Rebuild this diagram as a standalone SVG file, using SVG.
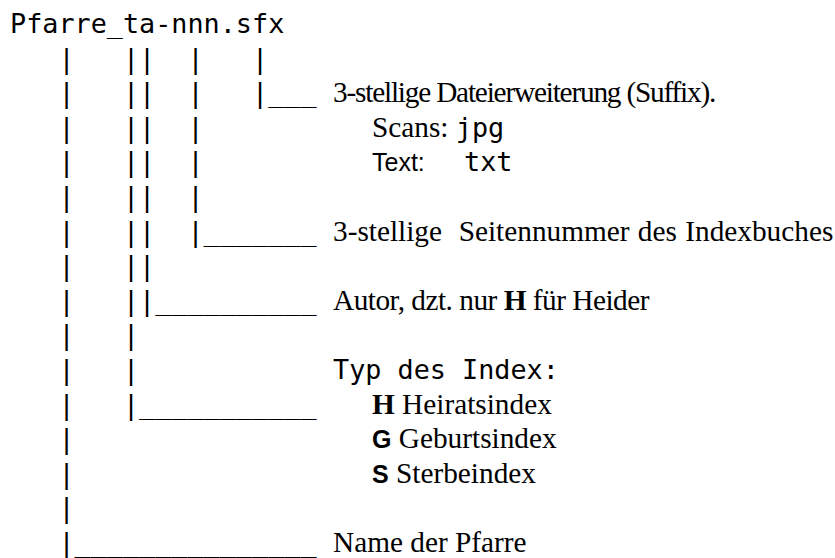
<svg xmlns="http://www.w3.org/2000/svg" width="835" height="558" viewBox="0 0 835 558">
  <style>
    .mono { font-family: "DejaVu Sans Mono", "Liberation Mono", monospace; font-size: 26.8px; fill: #000; white-space: pre; }
    .serif { font-family: "Liberation Serif", "Times New Roman", serif; font-size: 29.3px; fill: #000; white-space: pre; }
    .sans { font-family: "Liberation Sans", Arial, sans-serif; font-size: 25px; fill: #000; white-space: pre; }
    .b { font-weight: bold; }
  </style>
  <rect width="835" height="558" fill="#fff"/>

  <!-- file name pattern -->
  <g id="filename">
    <text class="mono" x="10" y="33">Pfarre_ta-nnn.sfx</text>
  </g>

  <!-- tree of pipes and underscores linking each part of the name to its label -->
  <g id="connectors" class="mono">
    <text class="mono" x="10" y="67.6" xml:space="preserve">   |   ||  |   |</text>
    <text class="mono" x="10" y="102.2" xml:space="preserve">   |   ||  |   |___</text>
    <text class="mono" x="10" y="136.8" xml:space="preserve">   |   ||  |</text>
    <text class="mono" x="10" y="171.4" xml:space="preserve">   |   ||  |</text>
    <text class="mono" x="10" y="206" xml:space="preserve">   |   ||  |</text>
    <text class="mono" x="10" y="240.6" xml:space="preserve">   |   ||  |_______</text>
    <text class="mono" x="10" y="275.2" xml:space="preserve">   |   ||</text>
    <text class="mono" x="10" y="309.8" xml:space="preserve">   |   ||__________</text>
    <text class="mono" x="10" y="344.4" xml:space="preserve">   |   |</text>
    <text class="mono" x="10" y="379" xml:space="preserve">   |   |</text>
    <text class="mono" x="10" y="413.6" xml:space="preserve">   |   |___________</text>
    <text class="mono" x="10" y="448.2" xml:space="preserve">   |</text>
    <text class="mono" x="10" y="482.8" xml:space="preserve">   |</text>
    <text class="mono" x="10" y="517.4" xml:space="preserve">   |</text>
    <text class="mono" x="10" y="552" xml:space="preserve">   |_______________</text>
  </g>

  <!-- suffix -->
  <g id="suffix">
    <text class="serif" x="333" y="102.2" letter-spacing="-1.2">3-stellige Dateierweiterung (Suffix).</text>
    <text x="372" y="136.8"><tspan class="serif">Scans: </tspan><tspan class="mono">jpg</tspan></text>
    <text x="372" y="171.4"><tspan class="sans">Text:</tspan><tspan class="mono" x="464">txt</tspan></text>
  </g>

  <!-- page number -->
  <g id="seitennummer">
    <text class="serif" x="333" y="240.6" xml:space="preserve" word-spacing="1">3-stellige  Seitennummer des Indexbuches</text>
  </g>

  <!-- author -->
  <g id="autor">
    <text class="serif" x="333" y="309.8" xml:space="preserve" letter-spacing="-0.5">Autor, dzt. nur <tspan class="b">H</tspan> für Heider</text>
  </g>

  <!-- index type -->
  <g id="indextyp">
    <text class="mono" x="333" y="379">Typ des Index:</text>
    <text x="372" y="413.6"><tspan class="serif b">H</tspan><tspan class="serif" xml:space="preserve"> Heiratsindex</tspan></text>
    <text x="372" y="448.2"><tspan class="sans b">G</tspan><tspan class="serif" xml:space="preserve"> Geburtsindex</tspan></text>
    <text x="372" y="482.8"><tspan class="sans b">S</tspan><tspan class="serif" xml:space="preserve"> Sterbeindex</tspan></text>
  </g>

  <!-- parish name -->
  <g id="pfarre">
    <text class="serif" x="333" y="552">Name der Pfarre</text>
  </g>
</svg>
